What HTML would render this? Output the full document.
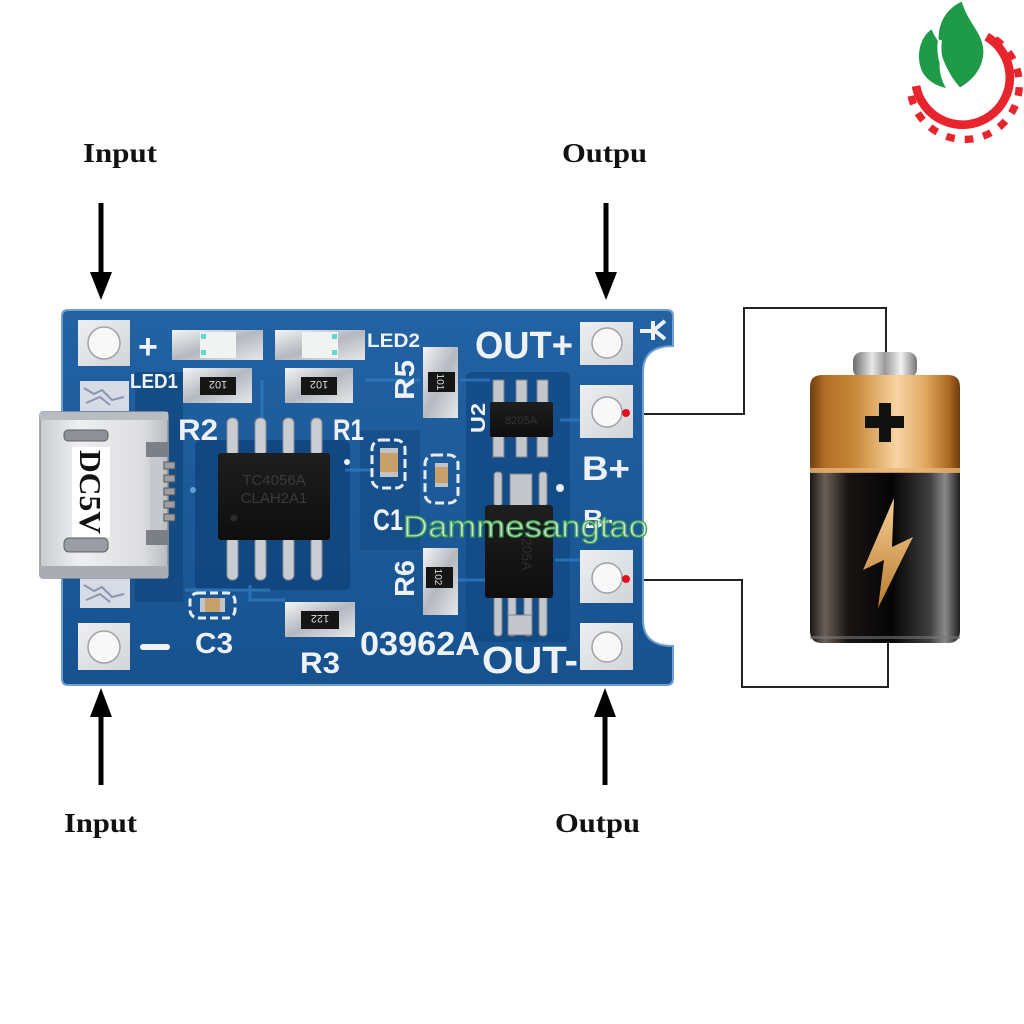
<!DOCTYPE html>
<html><head><meta charset="utf-8"><style>
html,body{margin:0;padding:0;background:#fff;}
svg{display:block}
.sk{font-family:"Liberation Sans",sans-serif;font-weight:bold;fill:#eef2f7;}
.lbl{font-family:"Liberation Serif",serif;font-weight:bold;fill:#111;}
</style></head><body>
<svg width="1024" height="1024" viewBox="0 0 1024 1024" xmlns="http://www.w3.org/2000/svg">
<defs>
 <linearGradient id="board" x1="0" y1="0" x2="0" y2="1">
  <stop offset="0" stop-color="#2262a3"/>
  <stop offset="1" stop-color="#17528f"/>
 </linearGradient>
 <linearGradient id="silver" x1="0" y1="0" x2="1" y2="1">
  <stop offset="0" stop-color="#f4f4f6"/>
  <stop offset="0.5" stop-color="#b4b8bf"/>
  <stop offset="1" stop-color="#e6e7ea"/>
 </linearGradient>
 <linearGradient id="pad" x1="0" y1="0" x2="1" y2="1">
  <stop offset="0" stop-color="#eeeff1"/>
  <stop offset="1" stop-color="#d2d4d8"/>
 </linearGradient>
 <linearGradient id="usb" x1="0" y1="0" x2="1" y2="0">
  <stop offset="0" stop-color="#c9cbcf"/>
  <stop offset="0.3" stop-color="#eeeff1"/>
  <stop offset="0.8" stop-color="#dcdde0"/>
  <stop offset="1" stop-color="#b8bbc0"/>
 </linearGradient>
 <linearGradient id="copper" x1="0" y1="0" x2="1" y2="0">
  <stop offset="0" stop-color="#6e3f10"/>
  <stop offset="0.1" stop-color="#b06e25"/>
  <stop offset="0.3" stop-color="#c98938"/>
  <stop offset="0.58" stop-color="#f7d4a2"/>
  <stop offset="0.78" stop-color="#e0a45c"/>
  <stop offset="0.93" stop-color="#a86820"/>
  <stop offset="1" stop-color="#6a3b0e"/>
 </linearGradient>
 <linearGradient id="blackb" x1="0" y1="0" x2="1" y2="0">
  <stop offset="0" stop-color="#1a1816"/>
  <stop offset="0.1" stop-color="#6a5f56"/>
  <stop offset="0.25" stop-color="#181513"/>
  <stop offset="0.55" stop-color="#050505"/>
  <stop offset="0.8" stop-color="#404040"/>
  <stop offset="0.9" stop-color="#8a8a8a"/>
  <stop offset="1" stop-color="#1e1e1e"/>
 </linearGradient>
 <linearGradient id="cap" x1="0" y1="0" x2="1" y2="0">
  <stop offset="0" stop-color="#6c6c6c"/>
  <stop offset="0.3" stop-color="#e8e8e8"/>
  <stop offset="0.5" stop-color="#9a9a9a"/>
  <stop offset="0.75" stop-color="#f2f2f2"/>
  <stop offset="1" stop-color="#777"/>
 </linearGradient>
 <linearGradient id="bolt" x1="0" y1="0" x2="0" y2="1">
  <stop offset="0" stop-color="#f6cf95"/>
  <stop offset="1" stop-color="#b97a2e"/>
 </linearGradient>
 <linearGradient id="ic" x1="0" y1="0" x2="0" y2="1">
  <stop offset="0" stop-color="#1e1e1e"/>
  <stop offset="1" stop-color="#0e0e0e"/>
 </linearGradient>
</defs>

<rect width="1024" height="1024" fill="#fff"/>

<!-- Logo -->
<g transform="translate(900,0) scale(0.3333)">
 <path d="M260,110 A142,142 0 1 1 48,258" stroke="#e8242c" stroke-width="26" fill="none"/>
 <path d="M285,118 A164,164 0 1 1 30,262" stroke="#e8242c" stroke-width="22" fill="none" stroke-dasharray="26 30"/>
 <path d="M185,5 C130,30 100,90 125,165 C140,210 160,240 180,262 C220,240 252,200 250,150 C248,100 205,70 185,5 Z" fill="#1f9a48"/>
 <path d="M95,88 C60,110 45,170 68,218 C85,245 110,258 138,264 C118,230 112,190 128,150 C116,122 100,105 95,88 Z" fill="#1f9a48"/>
 <path d="M120,120 C112,170 130,220 165,258" stroke="#fff" stroke-width="12" fill="none"/>
</g>

<!-- Arrows & labels -->
<text class="lbl" x="83" y="162" font-size="27" textLength="74" lengthAdjust="spacingAndGlyphs">Input</text>
<text class="lbl" x="562" y="162" font-size="27" textLength="85" lengthAdjust="spacingAndGlyphs">Outpu</text>
<text class="lbl" x="64" y="832" font-size="27" textLength="73" lengthAdjust="spacingAndGlyphs">Input</text>
<text class="lbl" x="555" y="832" font-size="27" textLength="85" lengthAdjust="spacingAndGlyphs">Outpu</text>
<rect x="98.5" y="203" width="5" height="72" fill="#000"/>
<polygon points="90,272 112,272 101,300" fill="#000"/>
<rect x="603.5" y="203" width="5" height="72" fill="#000"/>
<polygon points="595,272 617,272 606,300" fill="#000"/>
<rect x="98.5" y="714" width="5" height="71" fill="#000"/>
<polygon points="101,688 90,717 112,717" fill="#000"/>
<rect x="602.5" y="714" width="5" height="71" fill="#000"/>
<polygon points="605,688 594,717 616,717" fill="#000"/>

<!-- Wires -->
<polyline points="627,414 744,414 744,308 886,308 886,353" fill="none" stroke="#222" stroke-width="2"/>
<polyline points="627,580 742,580 742,687 888,687 888,642" fill="none" stroke="#222" stroke-width="2"/>

<!-- Board -->
<path d="M68,310 H667 Q673,310 673,316 V346 Q643,346 643,372 V620 Q643,646 673,646 V679 Q673,685 667,685 H68 Q62,685 62,679 V316 Q62,310 68,310 Z" fill="url(#board)" stroke="#6f9fd0" stroke-width="2"/>
<!-- darker pours -->
<rect x="135" y="372" width="48" height="230" fill="#124780" opacity="0.8"/>
<rect x="195" y="440" width="155" height="150" rx="6" fill="#11447d" opacity="0.85"/>
<rect x="466" y="372" width="104" height="270" rx="6" fill="#124a85" opacity="0.8"/>
<rect x="360" y="430" width="60" height="120" fill="#154b84" opacity="0.7"/>
<!-- traces -->
<g stroke="#2f78bd" stroke-width="3" fill="none" opacity="0.8">
 <path d="M262,380 V430 M250,585 V600 H285 M345,470 H372 M365,380 H420 M460,380 H490 M455,580 H485 M560,420 H580 M555,560 H580 M185,590 H270"/>
</g>

<!-- Terminal pads -->
<g>
 <rect x="78" y="320" width="52" height="46" fill="url(#pad)"/>
 <circle cx="104" cy="343" r="16" fill="#f8f8f8" stroke="#9ea2a8" stroke-width="1.5"/>
 <rect x="78" y="623" width="52" height="47" fill="url(#pad)"/>
 <circle cx="104" cy="647" r="16" fill="#f8f8f8" stroke="#9ea2a8" stroke-width="1.5"/>
 <rect x="580" y="322" width="53" height="43" fill="url(#pad)"/>
 <circle cx="607" cy="343" r="15" fill="#f8f8f8" stroke="#9ea2a8" stroke-width="1.5"/>
 <rect x="580" y="385" width="53" height="53" fill="url(#pad)"/>
 <circle cx="607" cy="412" r="15" fill="#f8f8f8" stroke="#9ea2a8" stroke-width="1.5"/>
 <rect x="580" y="550" width="53" height="53" fill="url(#pad)"/>
 <circle cx="607" cy="578" r="15" fill="#f8f8f8" stroke="#9ea2a8" stroke-width="1.5"/>
 <rect x="580" y="623" width="53" height="47" fill="url(#pad)"/>
 <circle cx="607" cy="647" r="15" fill="#f8f8f8" stroke="#9ea2a8" stroke-width="1.5"/>
</g>
<circle cx="626" cy="413" r="4" fill="#e3101a"/>
<circle cx="626" cy="579" r="4" fill="#e3101a"/>

<!-- mottled left pads -->
<rect x="80" y="381" width="49" height="30" fill="#d6dbe6"/>
<path d="M84,388 l10,6 l8,-4 l10,10 l12,-3 M86,403 l14,-6 l10,8" stroke="#8a96b0" stroke-width="2" fill="none"/>
<rect x="80" y="577" width="50" height="31" fill="#d6dbe6"/>
<path d="M84,585 l10,6 l8,-4 l10,10 l12,-3 M86,600 l14,-6 l10,8" stroke="#8a96b0" stroke-width="2" fill="none"/>

<!-- USB connector -->
<g>
 <rect x="40" y="412" width="128" height="166" rx="3" fill="url(#usb)" stroke="#8e9298" stroke-width="1.5"/>
 <rect x="40" y="412" width="128" height="8" fill="#b9bcc1"/>
 <rect x="40" y="566" width="128" height="12" fill="#a9adb3"/>
 <rect x="64" y="430" width="44" height="11" rx="4" fill="#8d9096" stroke="#5d6066"/>
 <rect x="64" y="538" width="44" height="14" rx="5" fill="#9a9da3" stroke="#5d6066"/>
 <rect x="146" y="442" width="22" height="15" fill="#7b7f86"/>
 <rect x="146" y="530" width="22" height="15" fill="#7b7f86"/>
 <rect x="150" y="457" width="12" height="73" fill="#c5c8cd"/>
 <g fill="#9ca0a6" stroke="#555" stroke-width="1">
  <rect x="164" y="462" width="11" height="7"/>
  <rect x="164" y="475" width="11" height="7"/>
  <rect x="164" y="488" width="11" height="7"/>
  <rect x="164" y="501" width="11" height="7"/>
  <rect x="164" y="514" width="11" height="7"/>
 </g>
 <rect x="72" y="447" width="38" height="90" fill="#fff"/>
 <text class="lbl" x="0" y="0" font-size="31" transform="translate(80,450) rotate(90)" textLength="84" lengthAdjust="spacingAndGlyphs">DC5V</text>
</g>

<!-- LEDs -->
<g>
 <rect x="172" y="330" width="91" height="30" fill="url(#silver)"/>
 <rect x="200" y="332" width="36" height="26" fill="#f1f3f2"/>
 <rect x="201" y="334" width="5" height="5" fill="#5fd8d0"/>
 <rect x="201" y="350" width="5" height="5" fill="#5fd8d0"/>
 <rect x="275" y="330" width="90" height="30" fill="url(#silver)"/>
 <rect x="302" y="332" width="36" height="26" fill="#f1f3f2"/>
 <rect x="332" y="334" width="5" height="5" fill="#5fd8d0"/>
 <rect x="332" y="350" width="5" height="5" fill="#5fd8d0"/>
</g>

<!-- R2, R1 -->
<g>
 <rect x="183" y="368" width="69" height="35" fill="url(#silver)"/>
 <rect x="200" y="377" width="36" height="18" fill="#151515"/>
 <text x="218" y="391" font-size="11" text-anchor="middle" fill="#ddd" font-family="Liberation Sans,sans-serif" transform="rotate(180 218 386)">102</text>
 <rect x="285" y="368" width="68" height="35" fill="url(#silver)"/>
 <rect x="301" y="377" width="36" height="18" fill="#151515"/>
 <text x="319" y="391" font-size="11" text-anchor="middle" fill="#ddd" font-family="Liberation Sans,sans-serif" transform="rotate(180 319 386)">102</text>
</g>

<!-- Main IC -->
<g>
 <g fill="#c9ccd1" stroke="#8a8e95" stroke-width="1">
  <rect x="227" y="418" width="11" height="38" rx="5"/>
  <rect x="255" y="418" width="11" height="38" rx="5"/>
  <rect x="283" y="418" width="11" height="38" rx="5"/>
  <rect x="311" y="418" width="11" height="38" rx="5"/>
  <rect x="227" y="537" width="11" height="43" rx="5"/>
  <rect x="255" y="537" width="11" height="43" rx="5"/>
  <rect x="283" y="537" width="11" height="43" rx="5"/>
  <rect x="311" y="537" width="11" height="43" rx="5"/>
 </g>
 <rect x="218" y="453" width="112" height="87" rx="3" fill="url(#ic)"/>
 <text x="274" y="485" font-size="15" text-anchor="middle" fill="#3a3a3a" font-family="Liberation Sans,sans-serif">TC4056A</text>
 <text x="274" y="503" font-size="15" text-anchor="middle" fill="#3a3a3a" font-family="Liberation Sans,sans-serif">CLAH2A1</text>
 <circle cx="234" cy="518" r="3.5" fill="#2b2b2b"/>
</g>

<!-- C3, R3 -->
<rect x="190" y="593" width="45" height="25" rx="8" fill="none" stroke="#e6ecf4" stroke-width="3" stroke-dasharray="8 4"/>
<rect x="200" y="598" width="25" height="14" fill="#c8a06a"/>
<rect x="200" y="598" width="5" height="14" fill="#c0c3c8"/>
<rect x="220" y="598" width="5" height="14" fill="#c0c3c8"/>
<rect x="285" y="602" width="70" height="35" fill="url(#silver)"/>
<rect x="301" y="611" width="38" height="18" fill="#151515"/>
<text x="320" y="625" font-size="11" text-anchor="middle" fill="#ddd" font-family="Liberation Sans,sans-serif" transform="rotate(180 320 620)">122</text>

<!-- C1, C2 -->
<rect x="372" y="440" width="33" height="48" rx="9" fill="none" stroke="#e6ecf4" stroke-width="3" stroke-dasharray="9 4"/>
<rect x="380" y="448" width="18" height="29" fill="#c8a06a"/>
<rect x="380" y="448" width="18" height="5" fill="#c0c3c8"/>
<rect x="380" y="472" width="18" height="5" fill="#c0c3c8"/>
<rect x="425" y="455" width="33" height="48" rx="9" fill="none" stroke="#e6ecf4" stroke-width="3" stroke-dasharray="9 4"/>
<rect x="435" y="463" width="13" height="24" fill="#c8a06a"/>
<rect x="435" y="463" width="13" height="4" fill="#c0c3c8"/>
<rect x="435" y="483" width="13" height="4" fill="#c0c3c8"/>

<!-- R5, R6 -->
<rect x="423" y="347" width="35" height="71" fill="url(#silver)"/>
<rect x="428" y="372" width="27" height="20" fill="#151515"/>
<text x="441" y="386" font-size="10" text-anchor="middle" fill="#ddd" font-family="Liberation Sans,sans-serif" transform="rotate(90 441 382)">101</text>
<rect x="423" y="548" width="35" height="67" fill="url(#silver)"/>
<rect x="426" y="567" width="27" height="21" fill="#151515"/>
<text x="439" y="581" font-size="10" text-anchor="middle" fill="#ddd" font-family="Liberation Sans,sans-serif" transform="rotate(90 439 577)">102</text>

<!-- U2 -->
<g fill="#c3c6cb" stroke="#7d8188" stroke-width="1">
 <rect x="493" y="380" width="11" height="24"/>
 <rect x="516" y="380" width="11" height="24"/>
 <rect x="537" y="380" width="11" height="24"/>
 <rect x="493" y="435" width="11" height="22"/>
 <rect x="516" y="435" width="11" height="22"/>
 <rect x="537" y="435" width="11" height="22"/>
</g>
<rect x="490" y="402" width="63" height="35" rx="2" fill="url(#ic)"/>
<text x="521" y="424" font-size="11" text-anchor="middle" fill="#333" font-family="Liberation Sans,sans-serif">8205A</text>

<!-- U3 -->
<g fill="#c3c6cb" stroke="#7d8188" stroke-width="1">
 <rect x="494" y="472" width="8" height="34" rx="3"/>
 <rect x="510" y="474" width="22" height="32"/>
 <rect x="539" y="472" width="8" height="34" rx="3"/>
 <rect x="494" y="596" width="8" height="40" rx="3"/>
 <rect x="508" y="596" width="8" height="40" rx="3"/>
 <rect x="524" y="596" width="8" height="40" rx="3"/>
 <rect x="539" y="596" width="8" height="40" rx="3"/>
 <rect x="508" y="615" width="24" height="20"/>
</g>
<rect x="485" y="505" width="68" height="93" rx="3" fill="url(#ic)"/>
<text x="0" y="0" font-size="14" fill="#2e2e2e" font-family="Liberation Sans,sans-serif" transform="translate(522,530) rotate(90)">8205A</text>

<!-- silkscreen -->
<text class="sk" x="138" y="358" font-size="34">+</text>
<rect x="140" y="644" width="30" height="6" rx="3" fill="#eef2f7"/>
<text class="sk" x="130" y="388" font-size="20" textLength="48" lengthAdjust="spacingAndGlyphs">LED1</text>
<text class="sk" x="367" y="347" font-size="19" textLength="53" lengthAdjust="spacingAndGlyphs">LED2</text>
<text class="sk" x="178" y="440" font-size="30" textLength="40" lengthAdjust="spacingAndGlyphs">R2</text>
<text class="sk" x="333" y="440" font-size="30" textLength="31" lengthAdjust="spacingAndGlyphs">R1</text>
<text class="sk" x="475" y="358" font-size="38" textLength="98" lengthAdjust="spacingAndGlyphs">OUT+</text>
<text class="sk" x="582" y="480" font-size="34" textLength="48" lengthAdjust="spacingAndGlyphs">B+</text>
<text class="sk" x="583" y="528" font-size="26" textLength="30" lengthAdjust="spacingAndGlyphs">B-</text>
<text class="sk" x="482" y="673" font-size="38" textLength="96" lengthAdjust="spacingAndGlyphs">OUT-</text>
<text class="sk" x="360" y="655" font-size="33" textLength="120" lengthAdjust="spacingAndGlyphs">03962A</text>
<text class="sk" x="373" y="530" font-size="30" textLength="30" lengthAdjust="spacingAndGlyphs">C1</text>
<text class="sk" x="195" y="653" font-size="29" textLength="38" lengthAdjust="spacingAndGlyphs">C3</text>
<text class="sk" x="300" y="673" font-size="30" textLength="40" lengthAdjust="spacingAndGlyphs">R3</text>
<text class="sk" font-size="28" transform="translate(414,400) rotate(-90)" textLength="40" lengthAdjust="spacingAndGlyphs">R5</text>
<text class="sk" font-size="28" transform="translate(414,597) rotate(-90)" textLength="37" lengthAdjust="spacingAndGlyphs">R6</text>
<text class="sk" font-size="20" transform="translate(485,433) rotate(-90)" textLength="30" lengthAdjust="spacingAndGlyphs">U2</text>
<path d="M640,331 H652 M653,321 V340 M654,330 L665,321 M654,330 L665,339" stroke="#eef2f7" stroke-width="4" fill="none"/>
<circle cx="560" cy="488" r="4" fill="#eef2f7"/>
<circle cx="347" cy="462" r="3" fill="#eef2f7"/>
<circle cx="193" cy="490" r="3" fill="#5ea0d8"/>

<!-- watermark -->
<text x="403" y="537" font-size="31" textLength="245" lengthAdjust="spacingAndGlyphs" font-family="Liberation Sans,sans-serif" fill="#e4ece6" fill-opacity="0.9" stroke="#3aa04e" stroke-width="1.2">Dammesangtao</text>

<!-- Battery -->
<g>
 <rect x="853" y="352" width="64" height="26" rx="9" fill="url(#cap)"/>
 <path d="M822,375 H948 Q960,375 960,387 V472 H810 V387 Q810,375 822,375 Z" fill="url(#copper)"/>
 <path d="M810,472 H960 V631 Q960,643 948,643 H822 Q810,643 810,631 Z" fill="url(#blackb)"/>
 <rect x="810" y="468" width="150" height="5" fill="#e8b577" opacity="0.8"/>
 <rect x="810" y="636" width="150" height="3" fill="#777" opacity="0.6"/>
 <path d="M879,403 H891 V416 H904 V428 H891 V442 H879 V428 H865 V416 H879 Z" fill="#111"/>
 <polygon points="894,498 863,570 884,560 878,608 913,537 892,547" fill="url(#bolt)"/>
</g>
</svg>
</body></html>
